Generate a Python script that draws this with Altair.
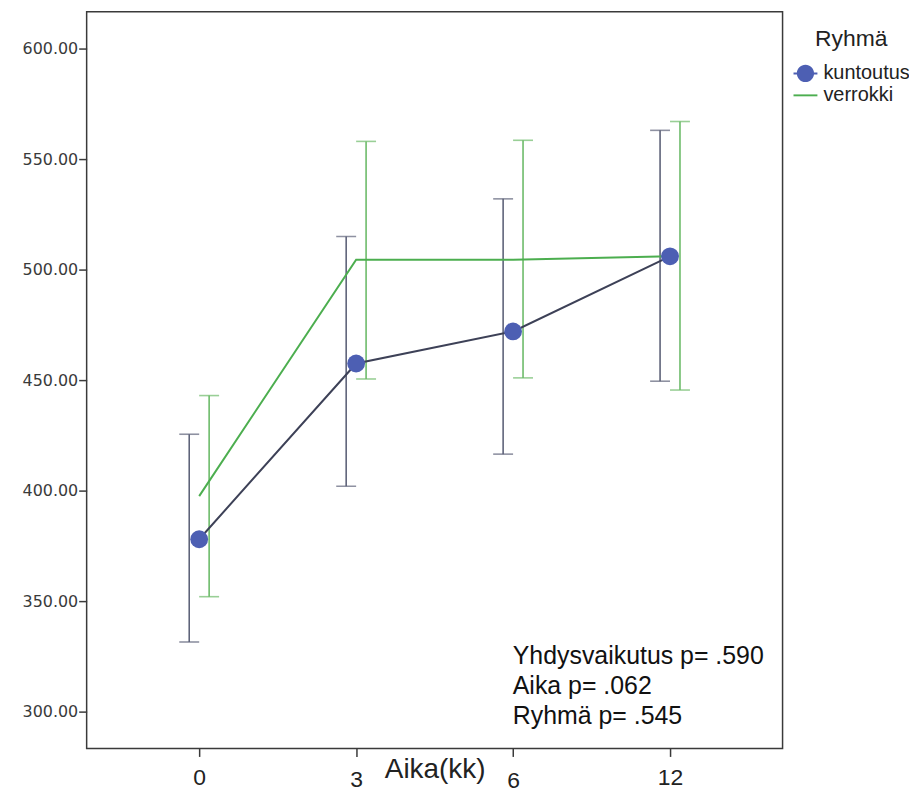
import altair as alt
import pandas as pd

# ---- data ----
time_labels = ["0", "3", "6", "12"]
groups = ["kuntoutus", "verrokki"]
kunt_mean = [378.0, 457.5, 472.0, 506.0]
kunt_low = [331.5, 402.0, 416.5, 449.5]
kunt_high = [425.5, 515.0, 532.0, 563.0]
verr_mean = [397.5, 504.5, 504.5, 506.0]
verr_low = [352.0, 450.5, 451.0, 445.5]
verr_high = [443.0, 558.0, 558.5, 567.0]
y_ticks = [300, 350, 400, 450, 500, 550, 600]
annotation_lines = ["Yhdysvaikutus p= .590", "Aika p= .062", "Ryhmä p= .545"]
x_title = "Aika(kk)"
legend_title = "Ryhmä"

rows = []
for g, m, lo, hi in [(groups[0], kunt_mean, kunt_low, kunt_high),
                     (groups[1], verr_mean, verr_low, verr_high)]:
    for t, a, b, c in zip(time_labels, m, lo, hi):
        rows.append({"group": g, "time": t, "mean": a, "low": b, "high": c})
df = pd.DataFrame(rows)
ann_df = pd.DataFrame({"txt": ["\n".join(annotation_lines)]})

# ---- styles ----
K_LINE = "#3d4157"
K_POINT = "#4d5fb3"
K_ERR = "#5e6379"
V_LINE = "#4cae4f"
V_ERR = "#6dbb6a"
AXIS_COL = "#3a3a3a"
FONT = "Liberation Sans"

x_scale = alt.Scale(type="point", domain=time_labels, padding=0.717)
y_scale = alt.Scale(domain=[283.33, 616.67], nice=False, zero=False)

x_axis = alt.Axis(
    labelAngle=0, labelFont=FONT, labelFontSize=23, labelColor="#222",
    tickSize=8, tickColor=AXIS_COL, tickWidth=1.5, domain=False, grid=False,
    labelPadding={"condition": [{"test": "datum.value === '3'", "value": 12},
                                {"test": "datum.value === '6'", "value": 13}],
                  "value": 10},
    title=x_title, titleFont=FONT, titleFontSize=28, titleFontWeight="normal",
    titleColor="#222", titleBaseline="alphabetic", titleY=29,
)
y_axis = alt.Axis(
    values=y_ticks, format=".2f", labelFont="DejaVu Sans", labelFontSize=16,
    labelColor=AXIS_COL, tickSize=8, tickColor=AXIS_COL, tickWidth=1.5,
    labelPadding=1, domain=False, grid=False, title=None,
)

X = alt.X("time:N", scale=x_scale, axis=x_axis)
base = alt.Chart(df)
kdf = base.transform_filter(alt.datum.group == groups[0])
vdf = base.transform_filter(alt.datum.group == groups[1])


def errbars(src, color, off):
    rule = src.mark_rule(color=color, strokeWidth=1.6, xOffset=off).encode(
        x=X, y=alt.Y("low:Q", scale=y_scale, axis=y_axis), y2="high:Q")
    lo = src.mark_tick(color=color, thickness=1.6, size=20, xOffset=off).encode(
        x=X, y=alt.Y("low:Q", scale=y_scale))
    hi = src.mark_tick(color=color, thickness=1.6, size=20, xOffset=off).encode(
        x=X, y=alt.Y("high:Q", scale=y_scale))
    return [rule, lo, hi]


layers = []
layers += errbars(kdf, K_ERR, -10)
layers += errbars(vdf, V_ERR, 10)
layers.append(vdf.mark_line(color=V_LINE, strokeWidth=2).encode(
    x=X, y=alt.Y("mean:Q", scale=y_scale)))
layers.append(kdf.mark_line(color=K_LINE, strokeWidth=2).encode(
    x=X, y=alt.Y("mean:Q", scale=y_scale)))
layers.append(kdf.mark_circle(size=320, color=K_POINT, opacity=1).encode(
    x=X, y=alt.Y("mean:Q", scale=y_scale)))

# legend-only layer (invisible marks, custom symbols)
path_k = ("M-1,-0.08H1V0.08H-1Z "
          "M0.72,0A0.72,0.72 0 1,1 -0.72,0A0.72,0.72 0 1,1 0.72,0Z")
path_v = "M-1,-0.08H1V0.08H-1Z"
leg = alt.Legend(
    title=legend_title, orient="none", legendX=710, legendY=16,
    titleFont=FONT, titleFontSize=23, titleFontWeight="normal", titleColor="#222",
    titleAnchor="middle", titlePadding=11,
    labelFont=FONT, labelFontSize=20, labelColor="#222", labelOffset=6,
    symbolSize=576, symbolOpacity=1, symbolStrokeWidth=0, rowPadding=0,
)
layers.append(base.mark_point(filled=True, opacity=0).encode(
    x=X, y=alt.Y("mean:Q", scale=y_scale),
    color=alt.Color("group:N", scale=alt.Scale(domain=groups, range=[K_POINT, V_LINE]), legend=leg),
    shape=alt.Shape("group:N", scale=alt.Scale(domain=groups, range=[path_k, path_v]), legend=leg),
))

# annotation text
layers.append(alt.Chart(ann_df).mark_text(
    lineBreak="\n", align="left", baseline="alphabetic", font=FONT,
    fontSize=25, lineHeight=30, color="#111").encode(
    text="txt:N", x=alt.value(428), y=alt.value(655)))

chart = alt.layer(*layers).properties(
    width=699, height=740,
    autosize=alt.AutoSizeParams(type="none"),
    padding={"left": 79, "top": 2, "right": 127, "bottom": 44},
).configure_view(stroke=AXIS_COL, strokeWidth=1.5)

chart.save("out.html", embed_options={"renderer": "svg", "actions": False})
